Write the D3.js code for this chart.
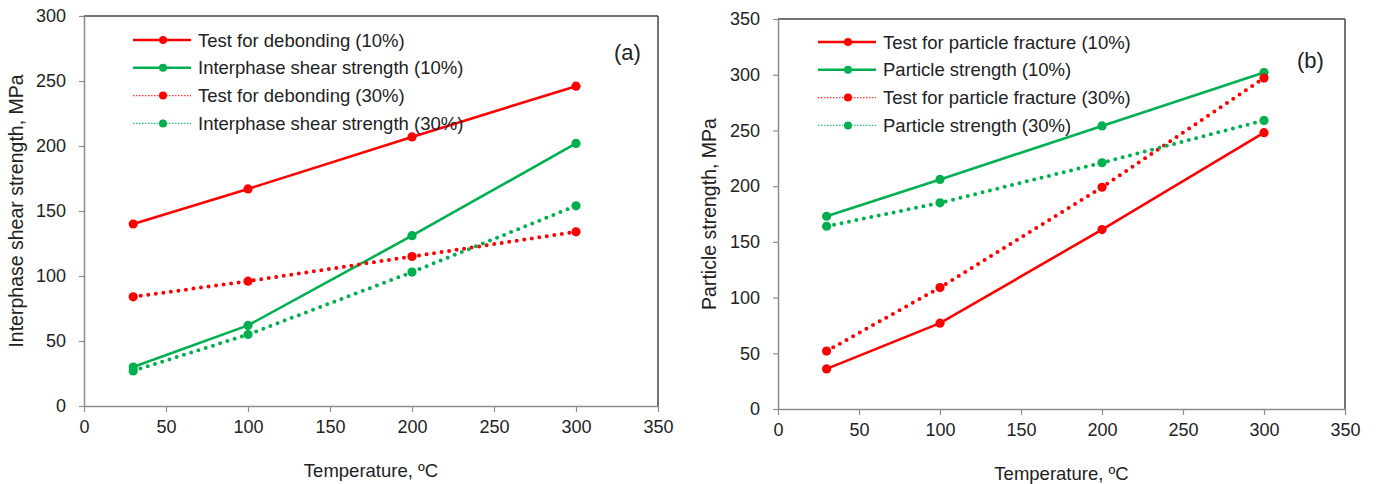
<!DOCTYPE html>
<html>
<head>
<meta charset="utf-8">
<script src="https://cdn.jsdelivr.net/npm/d3@7"></script>
<style>
  body { margin: 0; background: #fff; }
  svg text { font-family: "Liberation Sans", Arial, sans-serif; fill: #222; }
</style>
</head>
<body>
<div id="chart"></div>
<script>
// temperatures (x) shared by both panels
var temps = [30, 100, 200, 300];

// panel (a)
var debond10 = [140, 167, 207, 246];
var ishear10 = [30, 62, 131, 202];
var debond30 = [84, 96, 115, 134];
var ishear30 = [27, 55, 103, 154];
var namesA = ["Test for debonding (10%)", "Interphase shear strength (10%)",
              "Test for debonding (30%)", "Interphase shear strength (30%)"];

// panel (b)
var fracture10 = [36, 77, 161, 248];
var pstrength10 = [173, 206, 254, 302];
var fracture30 = [52, 109, 199, 297];
var pstrength30 = [164, 185, 221, 259];
var namesB = ["Test for particle fracture (10%)", "Particle strength (10%)",
              "Test for particle fracture (30%)", "Particle strength (30%)"];

var xTicks = [0, 50, 100, 150, 200, 250, 300, 350];

var RED = "#ff0000", GREEN = "#00b050";

var svg = d3.select("#chart").append("svg")
    .attr("width", 1376)
    .attr("height", 484);

function drawPanel(opt) {
  var x = d3.scaleLinear().domain([0, 350]).range([opt.left, opt.right]);
  var y = d3.scaleLinear().domain([0, opt.ymax]).range([opt.bottom, opt.top]);
  var g = svg.append("g");

  // frame: top/right dark, axes gray
  g.append("line").attr("x1", opt.left).attr("x2", opt.right)
    .attr("y1", opt.top).attr("y2", opt.top)
    .attr("stroke", "#444").attr("stroke-width", 1.5);
  g.append("line").attr("x1", opt.right).attr("x2", opt.right)
    .attr("y1", opt.top).attr("y2", opt.bottom)
    .attr("stroke", "#444").attr("stroke-width", 1.5);

  var xAxis = g.append("g")
    .attr("transform", "translate(0," + opt.bottom + ")")
    .call(d3.axisBottom(x).tickValues(xTicks).tickSize(6).tickSizeOuter(0).tickPadding(8));
  var yAxis = g.append("g")
    .attr("transform", "translate(" + opt.left + ",0)")
    .call(d3.axisLeft(y).ticks(opt.ymax / 50).tickSize(5).tickSizeOuter(0).tickPadding(13));
  [xAxis, yAxis].forEach(function(a) {
    a.select(".domain").attr("stroke", "#8c8c8c").attr("stroke-width", 1.5);
    a.selectAll(".tick line").attr("stroke", "#8c8c8c").attr("stroke-width", 1.2);
    a.selectAll(".tick text").attr("font-size", 18).attr("fill", "#222")
      .attr("font-family", "'Liberation Sans', Arial, sans-serif");
  });

  var line = d3.line()
    .x(function(d) { return x(d[0]); })
    .y(function(d) { return y(d[1]); });

  opt.series.forEach(function(s) {
    var pts = temps.map(function(t, i) { return [t, s.values[i]]; });
    var p = g.append("path")
      .datum(pts)
      .attr("d", line)
      .attr("fill", "none")
      .attr("stroke", s.color);
    if (s.dotted) {
      p.attr("stroke-width", 4).attr("stroke-linecap", "round")
       .attr("stroke-dasharray", "0 7.6");
    } else {
      p.attr("stroke-width", 2.6);
    }
    g.selectAll(null).data(pts).enter().append("circle")
      .attr("cx", function(d) { return x(d[0]); })
      .attr("cy", function(d) { return y(d[1]); })
      .attr("r", 4.6)
      .attr("fill", s.color);
  });

  // legend
  opt.series.forEach(function(s, i) {
    var ly = opt.legY + i * 27.8;
    var l = g.append("line")
      .attr("x1", opt.legX).attr("x2", opt.legX + 58)
      .attr("y1", ly).attr("y2", ly)
      .attr("stroke", s.color);
    if (s.dotted) l.attr("stroke-width", 1.2).attr("stroke-dasharray", "1.5 1.5").attr("opacity", 0.8);
    else l.attr("stroke-width", 2.4);
    g.append("circle").attr("cx", opt.legX + 30).attr("cy", ly).attr("r", 4).attr("fill", s.color);
    g.append("text")
      .attr("x", opt.legX + 65).attr("y", ly + 6.5)
      .attr("font-size", 18.5)
      .text(s.name);
  });

  // panel label
  g.append("text")
    .attr("x", opt.labX).attr("y", opt.labY)
    .attr("font-family", "'Liberation Serif', 'Times New Roman', serif")
    .attr("font-size", 22)
    .text(opt.label);

  // axis titles
  g.append("text")
    .attr("x", (opt.left + opt.right) / 2).attr("y", opt.bottom + 71)
    .attr("text-anchor", "middle").attr("font-size", 18.5)
    .text("Temperature, \u00baC");
  g.append("text")
    .attr("transform", "translate(" + opt.ytX + "," + ((opt.top + opt.bottom) / 2) + ") rotate(-90)")
    .attr("text-anchor", "middle").attr("font-size", 19.5)
    .text(opt.ytitle);
}

drawPanel({
  left: 84, right: 658, top: 16, bottom: 406, ymax: 300,
  series: [
    { name: namesA[0], values: debond10, color: RED, dotted: false },
    { name: namesA[1], values: ishear10, color: GREEN, dotted: false },
    { name: namesA[2], values: debond30, color: RED, dotted: true },
    { name: namesA[3], values: ishear30, color: GREEN, dotted: true }
  ],
  legX: 133, legY: 40, label: "(a)", labX: 614, labY: 60,
  ytitle: "Interphase shear strength, MPa", ytX: 23
});

drawPanel({
  left: 778, right: 1345, top: 19, bottom: 409, ymax: 350,
  series: [
    { name: namesB[0], values: fracture10, color: RED, dotted: false },
    { name: namesB[1], values: pstrength10, color: GREEN, dotted: false },
    { name: namesB[2], values: fracture30, color: RED, dotted: true },
    { name: namesB[3], values: pstrength30, color: GREEN, dotted: true }
  ],
  legX: 818, legY: 42, label: "(b)", labX: 1297, labY: 68,
  ytitle: "Particle strength, MPa", ytX: 716
});
</script>
</body>
</html>
